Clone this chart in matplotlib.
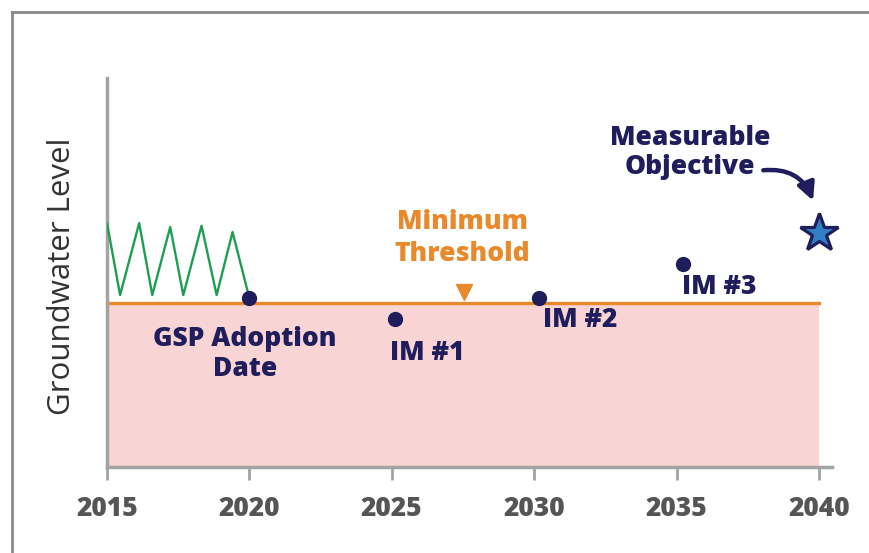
import matplotlib.pyplot as plt
from matplotlib.lines import Line2D
from matplotlib.patches import FancyArrowPatch

plt.rcParams['font.family'] = ['Open Sans', 'DejaVu Sans']

# data (years vs. relative groundwater level)
hist_years = [2015.0, 2015.46, 2016.13, 2016.59, 2017.22, 2017.68,
              2018.32, 2018.85, 2019.41, 2020.0]
hist_level = [6.27, 4.42, 6.27, 4.42, 6.17, 4.42, 6.20, 4.42, 6.04, 4.34]

threshold = 4.22
threshold_years = [2015, 2040]

milestone_names = ["GSP Adoption\nDate", "IM #1", "IM #2", "IM #3"]
milestone_years = [2020.0, 2025.1, 2030.18, 2035.23]
milestone_level = [4.34, 3.80, 4.34, 5.22]

objective_year = 2040
objective_level = 6.02

tick_years = [2015, 2020, 2025, 2030, 2035, 2040]

NAVY = "#1f1d5c"
ORANGE = "#e8892b"
GREEN = "#1e9e50"
PINK = "#f9d4d4"
GRAY = "#a3a3a3"

fig = plt.figure(figsize=(8.7, 5.53), dpi=100)
ax = fig.add_axes([107 / 870, 86 / 553, 725 / 870, 389 / 553])
ax.set_xlim(2015, 2040.46)
ax.set_ylim(0, 10)

# frame lines around the graphic (left + top only)
fig.add_artist(Line2D([12 / 870, 12 / 870], [0, 1 - 12 / 553], color="#8a8a8a", lw=2))
fig.add_artist(Line2D([12 / 870, 1], [1 - 12 / 553, 1 - 12 / 553], color="#8a8a8a", lw=2))

# region below threshold
ax.fill_between(threshold_years, 0, threshold, color=PINK, lw=0, zorder=1)
ax.plot(threshold_years, [threshold, threshold], color=ORANGE, lw=2.4, zorder=2)

# historical fluctuation
ax.plot(hist_years, hist_level, color=GREEN, lw=1.7, zorder=3)

# milestones
ax.plot(milestone_years, milestone_level, "o", color=NAVY, ms=10, zorder=4)
ax.plot(objective_year, objective_level, "*", ms=29, mfc="#2f80c3",
        mec=NAVY, mew=2.3, zorder=5, clip_on=False)
ax.plot(2027.53, 4.5, "v", color=ORANGE, ms=12, zorder=4)

bold = dict(fontweight="heavy", fontsize=19, ha="center", va="center")
ax.text(2027.47, 5.89, "Minimum\nThreshold", color=ORANGE, linespacing=1.33, **bold)
ax.text(2019.85, 2.90, milestone_names[0], color=NAVY, linespacing=1.2, **bold)
ax.text(2026.24, 2.93, milestone_names[1], color=NAVY, **bold)
ax.text(2031.6, 3.78, milestone_names[2], color=NAVY, **bold)
ax.text(2036.49, 4.63, milestone_names[3], color=NAVY, **bold)
ax.text(2035.47, 8.08, "Measurable\nObjective", color=NAVY, linespacing=1.15, **bold)

arrow = FancyArrowPatch((2037.95, 7.62), (2039.83, 6.78),
                        connectionstyle="arc3,rad=-0.4", arrowstyle="-|>",
                        mutation_scale=26, lw=3.2, color=NAVY, zorder=5)
ax.add_patch(arrow)

# axes styling
for s in ["top", "right"]:
    ax.spines[s].set_visible(False)
for s in ["left", "bottom"]:
    ax.spines[s].set_color(GRAY)
    ax.spines[s].set_linewidth(2.5)
ax.set_yticks([])
ax.set_xticks(tick_years)
ax.set_xticklabels([str(y) for y in tick_years])
ax.tick_params(axis="x", length=9, width=2, color=GRAY, pad=12,
               labelsize=19, labelcolor="#555555")
for lbl in ax.get_xticklabels():
    lbl.set_fontweight("heavy")
fig.text(62 / 870, 1 - 276 / 553, "Groundwater Level", rotation=90,
         ha="center", va="center", fontsize=22.5, color="#333333")

fig.savefig("out.png", dpi=100)
